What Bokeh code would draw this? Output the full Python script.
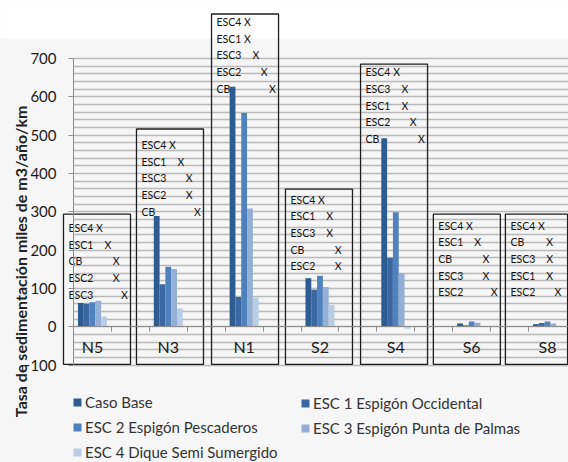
from bokeh.plotting import figure
from bokeh.models import (Range1d, FixedTicker, Legend, LegendItem, Label,
                          BoxAnnotation, ColumnDataSource)
from bokeh.core.properties import value
from bokeh.embed import file_html
from bokeh.resources import INLINE

# ---------------- data ----------------
categories = ["N5", "N3", "N1", "S2", "S4", "S6", "S8"]
series_names = ["Caso Base", "ESC 1 Espigón Occidental", "ESC 2 Espigón Pescaderos",
                "ESC 3 Espigón Punta de Palmas", "ESC 4 Dique Semi Sumergido"]
caso_base = [62, 289, 626, 127, 492, 9, 7]
esc1 = [60, 111, 78, 97, 180, 4, 10]
esc2 = [64, 157, 558, 133, 299, 14, 14]
esc3 = [68, 151, 309, 104, 140, 11, 9]
esc4 = [27, 48, 76, 57, -5, 1, 1]
y_ticks = [-100, 0, 100, 200, 300, 400, 500, 600, 700]
y_title = "Tasa de sedimentación  miles de m3/año/km"

# ranking annotations inside each box (top row first) and X column level
box_labels = [
    ["ESC4", "ESC1", "CB", "ESC2", "ESC3"],
    ["ESC4", "ESC1", "ESC3", "ESC2", "CB"],
    ["ESC4", "ESC1", "ESC3", "ESC2", "CB"],
    ["ESC4", "ESC1", "ESC3", "CB", "ESC2"],
    ["ESC4", "ESC3", "ESC1", "ESC2", "CB"],
    ["ESC4", "ESC1", "CB", "ESC3", "ESC2"],
    ["ESC4", "CB", "ESC3", "ESC1", "ESC2"],
]
box_levels = [
    [0, 1, 2, 2, 3],
    [0, 1, 2, 2, 3],
    [0, 0, 1, 2, 3],
    [0, 1, 1, 2, 2],
    [0, 1, 1, 2, 3],
    [0, 1, 2, 2, 3],
    [0, 1, 1, 1, 2],
]

# ---------------- layout / style ----------------
colors = ["#2c5c91", "#3b68a2", "#4f81bd", "#93afd6", "#b9cde5"]
PX_SLOT = 37.92          # pixels per x unit
PX_UNIT = 0.3836         # pixels per y unit
box_left = [-0.764, 1.161, 3.14, 5.09, 7.07, 8.99, 10.89]
box_width = [1.767, 1.767, 1.767, 1.767, 1.767, 1.767, 1.64]
box_top = [294, 516, 816, 359, 685, 294, 294]
box_bottom = -98
first_row = [258, 474, 795, 332, 664, 264, 264]
row_step = 43.5
bar_w = 0.153
FONT = "Lato"
BG = "#f6f6f6"

p = figure(width=568, height=462, output_backend="svg", toolbar_location=None,
           x_range=Range1d(-0.5 - 73 / PX_SLOT, -0.5 + 495 / PX_SLOT),
           y_range=Range1d(-135.7 / PX_UNIT, 326.5 / PX_UNIT),
           min_border_left=0, min_border_right=0, min_border_top=0,
           min_border_bottom=0, background_fill_color=BG,
           border_fill_color=BG, outline_line_color=None)

# grid
p.xgrid.visible = False
p.ygrid.ticker = FixedTicker(ticks=list(range(-100, 701, 20)))
p.ygrid.grid_line_color = "#b9b9b9"
p.ygrid.grid_line_width = 1.5

# mask left of the value axis and white strip at the top
p.add_layout(BoxAnnotation(left=-5, right=-0.5, bottom=-500, top=752, fill_color=BG,
                           fill_alpha=1, line_alpha=0, level="underlay"))
p.add_layout(BoxAnnotation(left=-5, right=15, bottom=752, top=1000, fill_color="white",
                           fill_alpha=1, line_alpha=0, level="underlay"))

# y axis
ya = p.yaxis[0]
ya.fixed_location = -0.5
ya.ticker = FixedTicker(ticks=y_ticks, minor_ticks=[])
ya.bounds = (-100, 700)
ya.axis_line_color = "#8c8c8c"
ya.major_tick_line_color = "#8c8c8c"
ya.major_tick_out = 5
ya.major_tick_in = 0
ya.minor_tick_out = 0
ya.major_label_standoff = 12
ya.major_label_text_font = FONT
ya.major_label_text_font_size = "15px"
ya.major_label_text_color = "#1a1a1a"

# x axis at zero
xa = p.xaxis[0]
xa.fixed_location = 0
xa.bounds = (-0.5, 12.6)
xa.ticker = FixedTicker(ticks=[2 * i for i in range(len(categories))],
                        minor_ticks=[i + 0.5 for i in range(12)])
xa.major_label_overrides = {2 * i: c for i, c in enumerate(categories)}
xa.axis_line_color = "#8c8c8c"
xa.major_tick_out = 0
xa.major_tick_in = 0
xa.minor_tick_out = 5
xa.minor_tick_in = 0
xa.minor_tick_line_color = "#8c8c8c"
xa.major_label_standoff = 5
xa.major_label_text_font = FONT
xa.major_label_text_font_size = "16px"
xa.major_label_text_color = "#1a1a1a"

# bars
series = [caso_base, esc1, esc2, esc3, esc4]
renderers = []
for k, vals in enumerate(series):
    xs = [2 * i + (k - 2) * bar_w for i in range(len(categories))]
    r = p.vbar(x=xs, top=vals, bottom=0, width=bar_w, fill_color=colors[k],
               line_color=None)
    renderers.append(r)

# boxes
p.quad(left=box_left, right=[l + w for l, w in zip(box_left, box_width)],
       top=box_top, bottom=[box_bottom] * len(box_left),
       fill_alpha=0, line_color="#1e1e1e", line_width=1.3)

lx, ly, lt, xx = [], [], [], []
for b in range(len(box_labels)):
    for r_i, (lab, lev) in enumerate(zip(box_labels[b], box_levels[b])):
        yy = first_row[b] - r_i * row_step
        lx.append(box_left[b] + 5 / PX_SLOT)
        ly.append(yy)
        lt.append(lab)
        xx.append(box_left[b] + (36 + 8.3 * lev) / PX_SLOT)
src = ColumnDataSource(dict(lx=lx, ly=ly, lt=lt, xx=xx, xt=["X"] * len(lt)))
p.text(x="lx", y="ly", text="lt", source=src, text_font=value(FONT),
       text_font_size=value("10.5px"), text_baseline="middle", text_align="left",
       text_color="#111111")
p.text(x="xx", y="ly", text="xt", source=src, text_font=value(FONT),
       text_font_size=value("10.5px"), text_baseline="middle", text_align="center",
       text_color="#111111")

# y title
p.add_layout(Label(x=-0.5 - 53 / PX_SLOT, y=176, text=y_title, angle=90, angle_units="deg",
                   text_align="center", text_baseline="middle", text_font=FONT,
                   text_font_style="bold", text_font_size="16px", text_color="#222222"))

# legends (two columns)
def make_legend(idx, loc):
    lg = Legend(items=[LegendItem(label=series_names[i], renderers=[renderers[i]]) for i in idx],
                location=loc, orientation="vertical", glyph_width=10, glyph_height=10,
                label_height=20, label_standoff=3, spacing=5, padding=0, margin=0,
                border_line_alpha=0, background_fill_alpha=0,
                label_text_font=FONT, label_text_font_size="15px",
                label_text_color="#333333")
    p.add_layout(lg, "center")

make_legend([0, 2, 4], (72, 0))
make_legend([1, 3], (300, 24))

open("out.html", "w").write(file_html(p, INLINE))
